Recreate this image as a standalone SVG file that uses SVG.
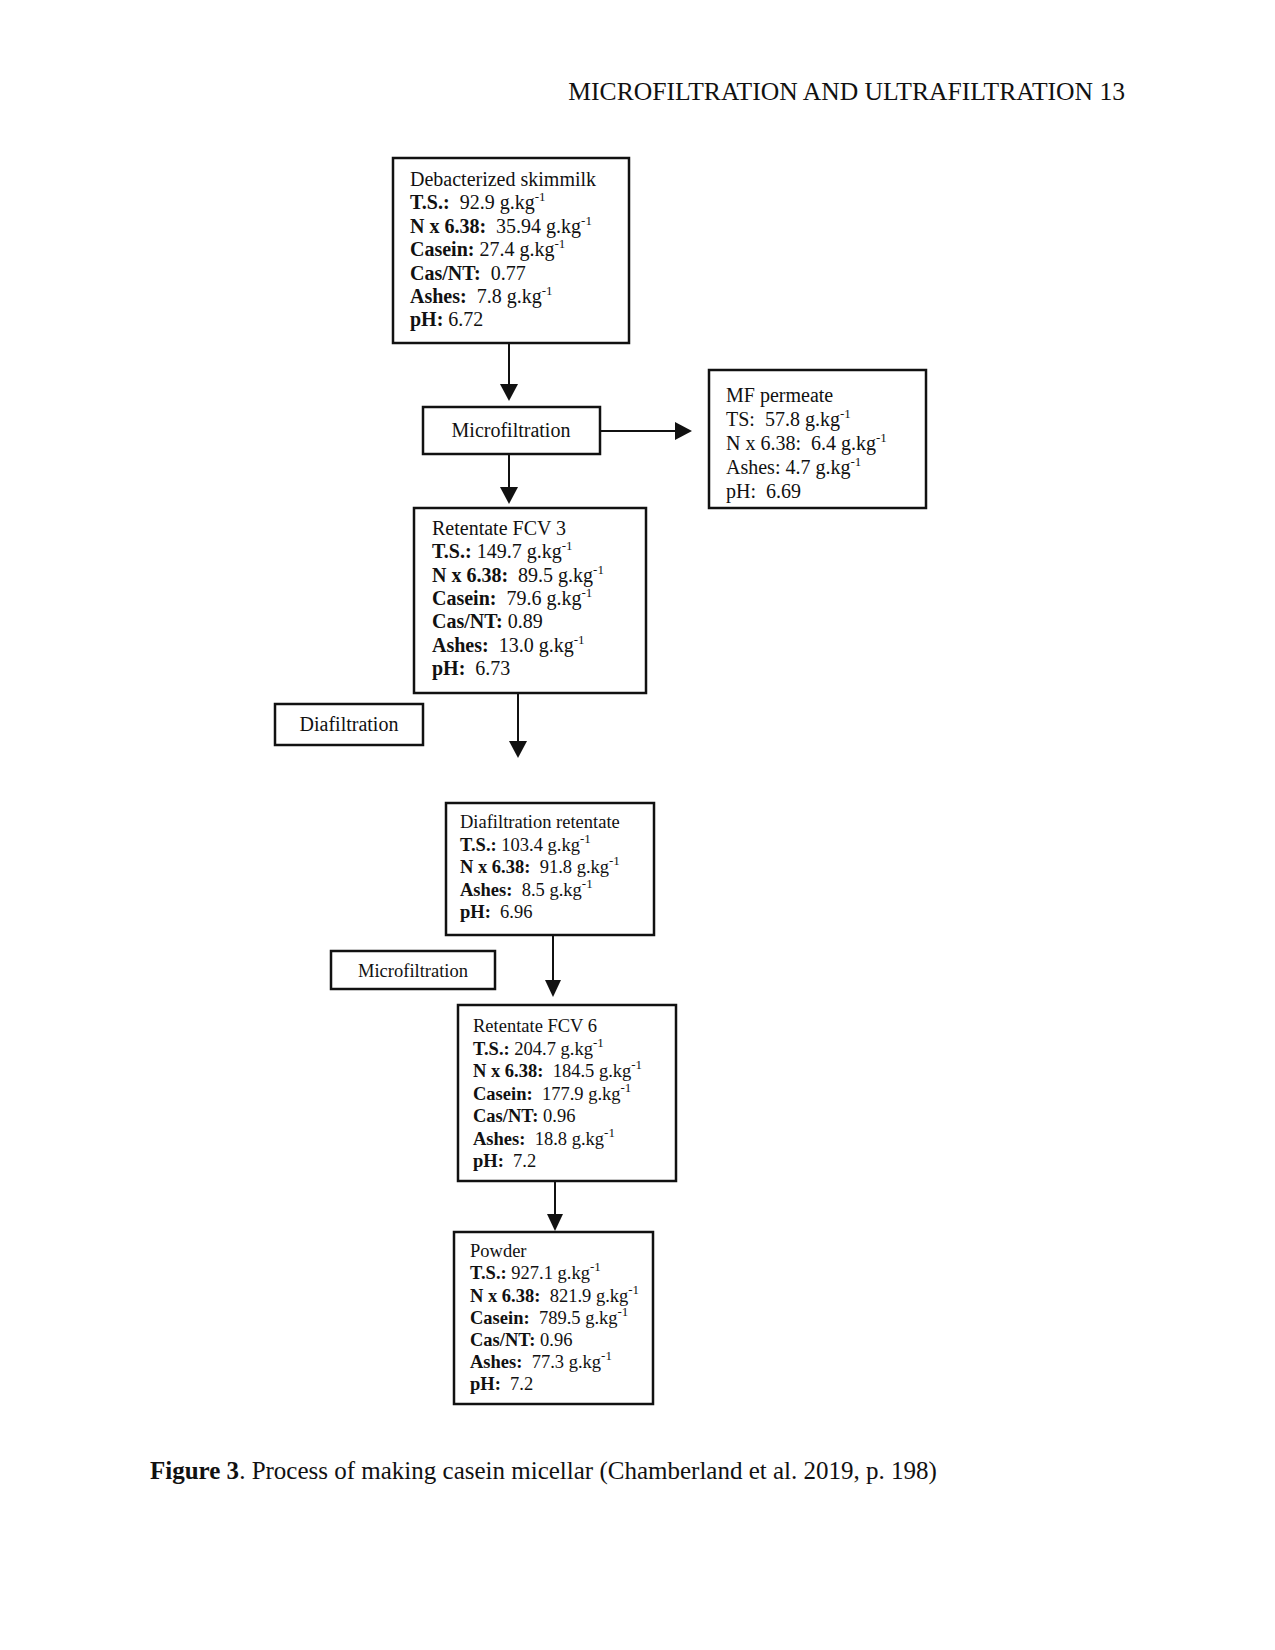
<svg xmlns="http://www.w3.org/2000/svg" width="1275" height="1650" viewBox="0 0 1275 1650">
<defs>
<style>
.box{fill:#fff;stroke:#111;stroke-width:2.5}
.t{font-family:"Liberation Serif","Times New Roman",serif;fill:#111;white-space:pre}
.b{font-weight:bold}
.s{font-size:13px}
.big{font-size:20px}
.sm{font-size:18.5px}
.conn line{stroke:#111;stroke-width:2}
.conn path{fill:#111}
</style>
</defs>
<rect width="1275" height="1650" fill="#fff"/>

<text class="t" x="1125" y="100" font-size="25.6" text-anchor="end">MICROFILTRATION AND ULTRAFILTRATION 13</text>

<g id="n1">
<rect class="box" x="393" y="158" width="236" height="185"/>
<text class="t big" x="410" y="186">Debacterized skimmilk</text>
<text class="t big" x="410" y="209.4"><tspan class="b">T.S.:</tspan>  92.9 g.kg<tspan class="s" dy="-8">-1</tspan></text>
<text class="t big" x="410" y="232.8"><tspan class="b">N x 6.38:</tspan>  35.94 g.kg<tspan class="s" dy="-8">-1</tspan></text>
<text class="t big" x="410" y="256.2"><tspan class="b">Casein:</tspan> 27.4 g.kg<tspan class="s" dy="-8">-1</tspan></text>
<text class="t big" x="410" y="279.6"><tspan class="b">Cas/NT:</tspan>  0.77</text>
<text class="t big" x="410" y="303"><tspan class="b">Ashes:</tspan>  7.8 g.kg<tspan class="s" dy="-8">-1</tspan></text>
<text class="t big" x="410" y="326.4"><tspan class="b">pH:</tspan> 6.72</text>
</g>

<g id="n2">
<rect class="box" x="423" y="407" width="177" height="47"/>
<text class="t big" x="511" y="437" text-anchor="middle">Microfiltration</text>
</g>

<g id="n3">
<rect class="box" x="709" y="370" width="217" height="138"/>
<text class="t big" x="726" y="402">MF permeate</text>
<text class="t big" x="726" y="426">TS:  57.8 g.kg<tspan class="s" dy="-8">-1</tspan></text>
<text class="t big" x="726" y="450">N x 6.38:  6.4 g.kg<tspan class="s" dy="-8">-1</tspan></text>
<text class="t big" x="726" y="474">Ashes: 4.7 g.kg<tspan class="s" dy="-8">-1</tspan></text>
<text class="t big" x="726" y="498">pH:  6.69</text>
</g>

<g id="n4">
<rect class="box" x="414" y="508" width="232" height="185"/>
<text class="t big" x="432" y="535">Retentate FCV 3</text>
<text class="t big" x="432" y="558.3"><tspan class="b">T.S.:</tspan> 149.7 g.kg<tspan class="s" dy="-8">-1</tspan></text>
<text class="t big" x="432" y="581.6"><tspan class="b">N x 6.38:</tspan>  89.5 g.kg<tspan class="s" dy="-8">-1</tspan></text>
<text class="t big" x="432" y="605"><tspan class="b">Casein:</tspan>  79.6 g.kg<tspan class="s" dy="-8">-1</tspan></text>
<text class="t big" x="432" y="628"><tspan class="b">Cas/NT:</tspan> 0.89</text>
<text class="t big" x="432" y="651.5"><tspan class="b">Ashes:</tspan>  13.0 g.kg<tspan class="s" dy="-8">-1</tspan></text>
<text class="t big" x="432" y="675"><tspan class="b">pH:</tspan>  6.73</text>
</g>

<g id="n5">
<rect class="box" x="275" y="704" width="148" height="41"/>
<text class="t big" x="349" y="731" text-anchor="middle">Diafiltration</text>
</g>

<g id="n6">
<rect class="box" x="446" y="803" width="208" height="132"/>
<text class="t sm" x="460" y="828">Diafiltration retentate</text>
<text class="t sm" x="460" y="850.5"><tspan class="b">T.S.:</tspan> 103.4 g.kg<tspan class="s" dy="-8">-1</tspan></text>
<text class="t sm" x="460" y="873"><tspan class="b">N x 6.38:</tspan>  91.8 g.kg<tspan class="s" dy="-8">-1</tspan></text>
<text class="t sm" x="460" y="895.5"><tspan class="b">Ashes:</tspan>  8.5 g.kg<tspan class="s" dy="-8">-1</tspan></text>
<text class="t sm" x="460" y="918"><tspan class="b">pH:</tspan>  6.96</text>
</g>

<g id="n7">
<rect class="box" x="331" y="951" width="164" height="38"/>
<text class="t sm" x="413" y="977" text-anchor="middle">Microfiltration</text>
</g>

<g id="n8">
<rect class="box" x="458" y="1005" width="218" height="176"/>
<text class="t sm" x="473" y="1032">Retentate FCV 6</text>
<text class="t sm" x="473" y="1054.5"><tspan class="b">T.S.:</tspan> 204.7 g.kg<tspan class="s" dy="-8">-1</tspan></text>
<text class="t sm" x="473" y="1077"><tspan class="b">N x 6.38:</tspan>  184.5 g.kg<tspan class="s" dy="-8">-1</tspan></text>
<text class="t sm" x="473" y="1099.5"><tspan class="b">Casein:</tspan>  177.9 g.kg<tspan class="s" dy="-8">-1</tspan></text>
<text class="t sm" x="473" y="1122"><tspan class="b">Cas/NT:</tspan> 0.96</text>
<text class="t sm" x="473" y="1144.5"><tspan class="b">Ashes:</tspan>  18.8 g.kg<tspan class="s" dy="-8">-1</tspan></text>
<text class="t sm" x="473" y="1167"><tspan class="b">pH:</tspan>  7.2</text>
</g>

<g id="n9">
<rect class="box" x="454" y="1232" width="199" height="172"/>
<text class="t sm" x="470" y="1257">Powder</text>
<text class="t sm" x="470" y="1279"><tspan class="b">T.S.:</tspan> 927.1 g.kg<tspan class="s" dy="-8">-1</tspan></text>
<text class="t sm" x="470" y="1301.5"><tspan class="b">N x 6.38:</tspan>  821.9 g.kg<tspan class="s" dy="-8">-1</tspan></text>
<text class="t sm" x="470" y="1323.5"><tspan class="b">Casein:</tspan>  789.5 g.kg<tspan class="s" dy="-8">-1</tspan></text>
<text class="t sm" x="470" y="1345.5"><tspan class="b">Cas/NT:</tspan> 0.96</text>
<text class="t sm" x="470" y="1367.5"><tspan class="b">Ashes:</tspan>  77.3 g.kg<tspan class="s" dy="-8">-1</tspan></text>
<text class="t sm" x="470" y="1390"><tspan class="b">pH:</tspan>  7.2</text>
</g>

<g id="connectors" class="conn">
<line x1="509" y1="343" x2="509" y2="386"/><path d="M500,384 L518,384 L509,401 Z"/>
<line x1="600" y1="431" x2="677" y2="431"/><path d="M675,422 L675,440 L692,431 Z"/>
<line x1="509" y1="454" x2="509" y2="489"/><path d="M500,487 L518,487 L509,504 Z"/>
<line x1="518" y1="693" x2="518" y2="743"/><path d="M509,741 L527,741 L518,758 Z"/>
<line x1="553" y1="935" x2="553" y2="982"/><path d="M545,980 L561,980 L553,997 Z"/>
<line x1="555" y1="1181" x2="555" y2="1216"/><path d="M547,1214 L563,1214 L555,1231 Z"/>
</g>

<text class="t" x="150" y="1479" font-size="25"><tspan font-weight="bold">Figure 3</tspan>. Process of making casein micellar (Chamberland et al. 2019, p. 198)</text>
</svg>
